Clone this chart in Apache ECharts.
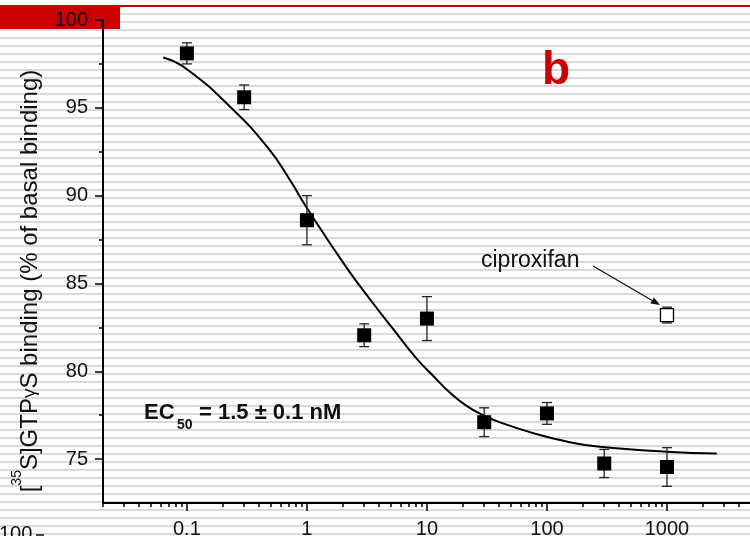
<!DOCTYPE html>
<html>
<head>
<meta charset="utf-8">
<script src="https://cdn.jsdelivr.net/npm/echarts@6/dist/echarts.min.js"></script>
<style>
html,body{margin:0;padding:0;background:#fff;}
#chart{width:750px;height:536px;}
</style>
</head>
<body>
<div id="chart"></div>
<script>
// ---- data ----
const concentration = [0.1, 0.3, 1, 3, 10, 30, 100, 300, 1000];          // nM
const binding       = [98.1, 95.6, 88.6, 82.05, 83.0, 77.1, 77.6, 74.75, 74.55];
const bindingErr    = [0.6, 0.7, 1.4, 0.65, 1.25, 0.82, 0.62, 0.8, 1.1];

const ciproxifanConc    = [1000];
const ciproxifanBinding = [83.2];
const ciproxifanErr     = [0.45];

const fitConc    = [0.0635, 0.1, 0.243, 0.476, 0.72, 1.0, 2.14, 3.35, 5.24, 8.2, 11.3, 15.5, 21.4, 29.5, 40.6, 76.9, 146, 276, 1000, 2600];
const fitBinding = [97.86, 97.2, 94.89, 92.7, 90.9, 89.3, 85.9, 84.1, 82.4, 80.72, 79.73, 78.79, 78.03, 77.5, 77.09, 76.48, 76.0, 75.7, 75.42, 75.32];

const xTickValues = [0.1, 1, 10, 100, 1000, 10000];
const xTickLabels = ['0.1', '1', '10', '100', '1000', '10000'];
const xMinorTicks = [0.02,0.03,0.04,0.05,0.06,0.07,0.08,0.09,
                     0.2,0.3,0.4,0.5,0.6,0.7,0.8,0.9,
                     2,3,4,5,6,7,8,9,
                     20,30,40,50,60,70,80,90,
                     200,300,400,500,600,700,800,900,
                     2000,3000,4000,5000,6000,7000,8000,9000];
const yTickValues = [75, 80, 85, 90, 95, 100];
const yMinorTicks = [77.5, 82.5, 87.5, 92.5, 97.5];

// ---- chart ----
const FONT = '"Liberation Sans", Arial, sans-serif';
const chart = echarts.init(document.getElementById('chart'), null, {renderer: 'canvas'});

const graphics = [];
for (let y = 13; y < 540; y += 8) {
  graphics.push({type: 'rect', silent: true, z: -20, shape: {x: 0, y: y, width: 750, height: 2}, style: {fill: '#d9d9d9'}});
}
graphics.push({type: 'rect', silent: true, z: -19, shape: {x: 0, y: 5, width: 750, height: 2}, style: {fill: '#cc0000'}});
graphics.push({type: 'rect', silent: true, z: -19, shape: {x: 0, y: 5, width: 120, height: 24}, style: {fill: '#cc0000'}});

graphics.push({type: 'text', silent: true, z: 100, x: 556, y: 71,
  style: {text: 'b', font: 'bold 46px ' + FONT, fill: '#cc0000', align: 'center', verticalAlign: 'middle'}});
graphics.push({type: 'text', silent: true, z: 100, x: 481, y: 261,
  style: {text: 'ciproxifan', font: '23px ' + FONT, fill: '#111', align: 'left', verticalAlign: 'middle'}});
// arrow
graphics.push({type: 'line', silent: true, z: 100, shape: {x1: 593, y1: 266, x2: 653, y2: 301}, style: {stroke: '#111', lineWidth: 1.3}});
graphics.push({type: 'polygon', silent: true, z: 100, shape: {points: [[660, 305], [650.4, 303.5], [654.0, 297.5]]}, style: {fill: '#111'}});
// EC50 annotation
graphics.push({type: 'text', silent: true, z: 100, x: 144, y: 413,
  style: {text: 'EC', font: 'bold 22px ' + FONT, fill: '#111', align: 'left', verticalAlign: 'middle'}});
graphics.push({type: 'text', silent: true, z: 100, x: 177, y: 425,
  style: {text: '50', font: 'bold 14px ' + FONT, fill: '#111', align: 'left', verticalAlign: 'middle'}});
graphics.push({type: 'text', silent: true, z: 100, x: 199, y: 413,
  style: {text: '= 1.5 \u00b1 0.1 nM', font: 'bold 22px ' + FONT, fill: '#111', align: 'left', verticalAlign: 'middle'}});
// y axis title
graphics.push({type: 'text', silent: true, z: 100, x: 30, y: 281, rotation: Math.PI / 2,
  style: {
    text: '{a|[}{s|35}{a|S]GTP}{g|\u03b3}{a|S binding (% of basal binding)}',
    align: 'center', verticalAlign: 'middle', fill: '#111',
    rich: {
      a: {fontSize: 24, fontFamily: FONT, lineHeight: 40, verticalAlign: 'middle', fill: '#111'},
      s: {fontSize: 14, fontFamily: FONT, lineHeight: 14, verticalAlign: 'top', fill: '#111'},
      g: {fontSize: 19, fontFamily: FONT, lineHeight: 40, verticalAlign: 'middle', fill: '#111'}
    }
  }});
// fragment of the panel below (cropped)
graphics.push({type: 'text', silent: true, z: 100, x: -1, y: 534,
  style: {text: '100', font: '20px ' + FONT, fill: '#111', align: 'left', verticalAlign: 'middle'}});
graphics.push({type: 'line', silent: true, z: 100, shape: {x1: 36, y1: 535, x2: 44, y2: 535}, style: {stroke: '#111', lineWidth: 1.5}});

function nearestLabel(v) {
  let best = 0, bd = Infinity;
  for (let i = 0; i < xTickValues.length; i++) {
    const d = Math.abs(Math.log10(v) - Math.log10(xTickValues[i]));
    if (d < bd) { bd = d; best = i; }
  }
  return xTickLabels[best];
}

function errorBarRender() {
  return function (params, api) {
    const x = api.value(0);
    const y = api.value(1);
    const e = api.value(2);
    const top = api.coord([x, y + e]);
    const bot = api.coord([x, y - e]);
    const hw = 5;
    const st = {stroke: '#222', lineWidth: 1.3};
    return {
      type: 'group',
      children: [
        {type: 'line', shape: {x1: top[0], y1: top[1], x2: bot[0], y2: bot[1]}, style: st},
        {type: 'line', shape: {x1: top[0] - hw, y1: top[1], x2: top[0] + hw, y2: top[1]}, style: st},
        {type: 'line', shape: {x1: bot[0] - hw, y1: bot[1], x2: bot[0] + hw, y2: bot[1]}, style: st}
      ]
    };
  };
}

const mainData = concentration.map((c, i) => [c, binding[i]]);
const mainErr = concentration.map((c, i) => [c, binding[i], bindingErr[i]]);
const cipData = ciproxifanConc.map((c, i) => [c, ciproxifanBinding[i]]);
const cipErr = ciproxifanConc.map((c, i) => [c, ciproxifanBinding[i], ciproxifanErr[i]]);
const fitData = fitConc.map((c, i) => [c, fitBinding[i]]);

const option = {
  animation: false,
  backgroundColor: '#ffffff',
  textStyle: {fontFamily: FONT},
  grid: {left: 103, top: 20, width: 684, height: 483, containLabel: false, outerBoundsMode: 'none'},
  xAxis: [{
    type: 'log', logBase: 10, min: 0.02, max: 10000, position: 'bottom',
    splitLine: {show: false},
    axisLine: {show: true, lineStyle: {color: '#000', width: 2}},
    axisTick: {show: true, length: 8, lineStyle: {color: '#000', width: 1.5}, customValues: xTickValues},
    axisLabel: {show: true, customValues: xTickValues, margin: 16, fontSize: 20, color: '#111', fontFamily: FONT,
      formatter: function (v) { return nearestLabel(v); }},
    minorTick: {show: false}
  }, {
    type: 'log', logBase: 10, min: 0.02, max: 10000, position: 'bottom', offset: 0,
    splitLine: {show: false},
    axisLine: {show: false},
    axisTick: {show: true, length: 4, lineStyle: {color: '#000', width: 1.5}, customValues: xMinorTicks},
    axisLabel: {show: false}
  }],
  yAxis: [{
    type: 'value', min: 72.5, max: 100, position: 'left',
    splitLine: {show: false},
    axisLine: {show: true, lineStyle: {color: '#000', width: 2}},
    axisTick: {show: true, length: 8, lineStyle: {color: '#000', width: 1.5}, customValues: yTickValues},
    axisLabel: {show: true, customValues: yTickValues, margin: 15, fontSize: 20, color: '#111', fontFamily: FONT,
      formatter: function (v) { return String(Math.round(v)); }}
  }, {
    type: 'value', min: 72.5, max: 100, position: 'left', offset: 0,
    splitLine: {show: false},
    axisLine: {show: false},
    axisTick: {show: true, length: 4, lineStyle: {color: '#000', width: 1.5}, customValues: yMinorTicks},
    axisLabel: {show: false}
  }],
  graphic: {elements: graphics},
  series: [
    {type: 'line', name: 'fit', data: fitData, xAxisIndex: 0, yAxisIndex: 0, smooth: 0.5, showSymbol: false,
      lineStyle: {color: '#000', width: 2}, z: 3, silent: true, clip: false},
    {type: 'custom', name: 'err', data: mainErr, xAxisIndex: 0, yAxisIndex: 0, renderItem: errorBarRender(), z: 4, silent: true},
    {type: 'custom', name: 'cipErr', data: cipErr, xAxisIndex: 0, yAxisIndex: 0, renderItem: errorBarRender(), z: 4, silent: true},
    {type: 'scatter', name: 'agonist', data: mainData, xAxisIndex: 0, yAxisIndex: 0, symbol: 'rect', symbolSize: 14,
      itemStyle: {color: '#000', opacity: 1}, z: 5, silent: true},
    {type: 'scatter', name: 'ciproxifan', data: cipData, xAxisIndex: 0, yAxisIndex: 0, symbol: 'rect', symbolSize: [13, 13],
      itemStyle: {color: '#fff', borderColor: '#000', borderWidth: 1.3, opacity: 1}, z: 5, silent: true}
  ]
};
chart.setOption(option);
</script>
</body>
</html>
